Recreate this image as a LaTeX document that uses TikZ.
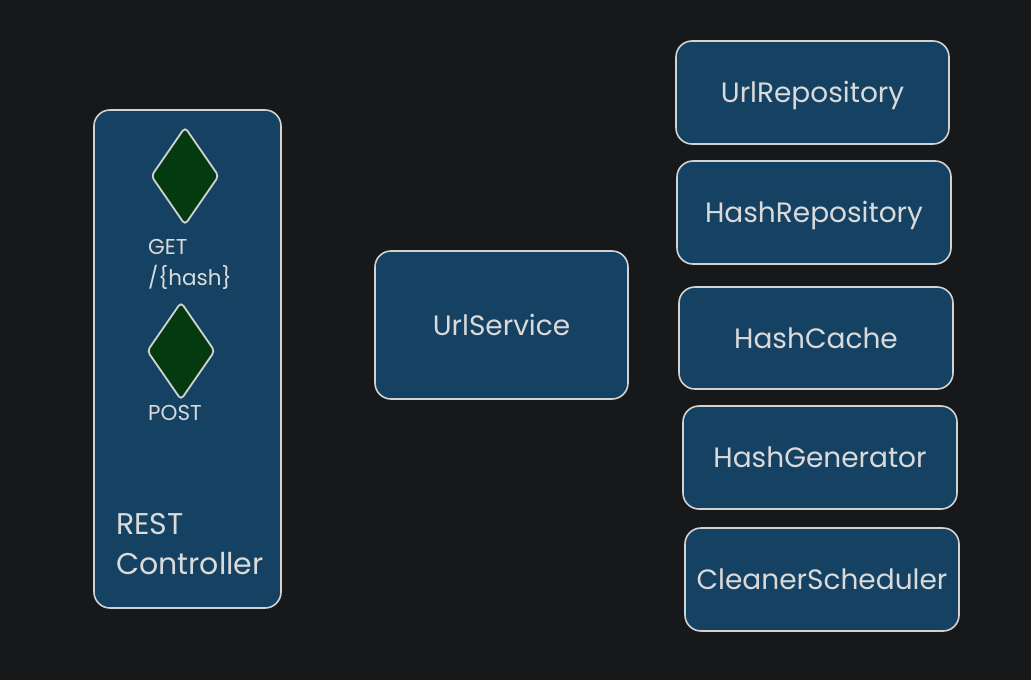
\documentclass[tikz,border=0pt]{standalone}
\usepackage{fontspec}
\setmainfont{Poppins}
\usetikzlibrary{shapes.geometric}
\definecolor{bg}{HTML}{17181A}
\definecolor{boxblue}{HTML}{154162}
\definecolor{dgreen}{HTML}{053A10}
\definecolor{stroke}{HTML}{D2D2D2}
\definecolor{txt}{HTML}{DADADA}
\tikzset{
  box/.style={draw=stroke, fill=boxblue, rounded corners=16pt, line width=1.6pt,
    text=txt, font=\fontsize{28}{32}\selectfont, inner sep=0pt,
    text height=20pt, text depth=0pt},
  gem/.style={diamond, draw=stroke, fill=dgreen, line width=1.8pt, inner sep=0pt,
    rounded corners=4pt, minimum width=68pt, minimum height=98pt},
  small/.style={text=txt, font=\fontsize{21.5}{31}\selectfont, align=left, inner sep=0pt},
  big/.style={text=txt, font=\fontsize{30}{40}\selectfont, align=left, inner sep=0pt}
}
\begin{document}
\begin{tikzpicture}[x=1pt,y=-1pt]
\fill[bg] (0,0) rectangle (1031,680);
\useasboundingbox (0,0) rectangle (1031,680);
% REST controller container
\node[box, minimum width=187pt, minimum height=498pt] (ctrl) at (187.5,359) {};
\node[gem] (get) at (185,176) {};
\node[small, anchor=north west] (getlbl) at (148,239) {GET\\/\{hash\}};
\node[small, anchor=north west] (postlbl) at (148,405) {POST};
\node[gem] (post) at (181,351) {};
\node[big, anchor=north west] (ctrllbl) at (116,513) {REST\\Controller};
% service
\node[box, minimum width=253pt, minimum height=148pt] (svc) at (501.5,325) {UrlService};
% right column
\node[box, minimum width=273pt, minimum height=103pt] (urlrepo) at (812.5,92.5) {UrlRepository};
\node[box, minimum width=274pt, minimum height=103pt] (hashrepo) at (814,212.5) {HashRepository};
\node[box, minimum width=274pt, minimum height=102pt] (cache) at (816,338) {HashCache};
\node[box, minimum width=274pt, minimum height=103pt] (gen) at (820,457.5) {HashGenerator};
\node[box, minimum width=274pt, minimum height=103pt] (sched) at (822,579.5) {CleanerScheduler};
\end{tikzpicture}
\end{document}
